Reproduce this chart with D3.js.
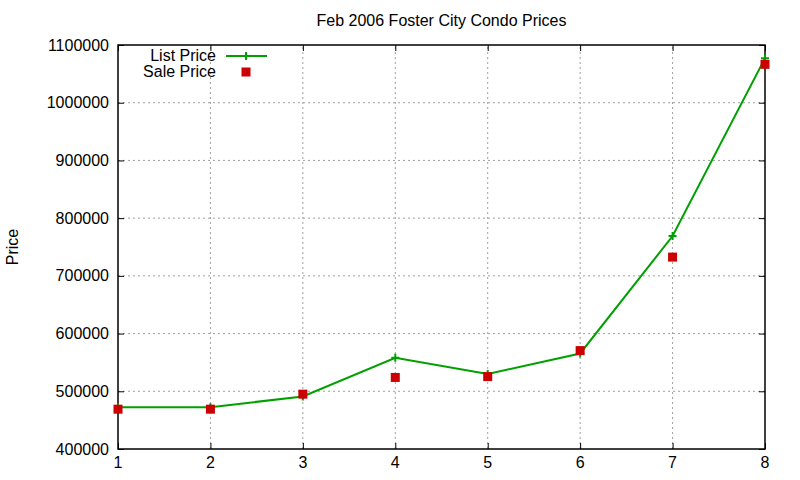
<!DOCTYPE html>
<html lang="en">
<head>
  <meta charset="UTF-8">
  <title>Feb 2006 Foster City Condo Prices</title>
  <script src="https://d3js.org/d3.v7.min.js"></script>
  <style>
    body { margin: 0; padding: 0; background: #fff; }
    svg { display: block; font-family: "Liberation Sans", Arial, sans-serif; }
    .grid line { stroke: #a0a0a0; stroke-width: 1; stroke-dasharray: 2,3; }
    .tick-label { font-size: 16px; fill: #000; }
  </style>
</head>
<body>
  <div id="chart"></div>
  <script>
const months = [1, 2, 3, 4, 5, 6, 7, 8];
const listPrice = [472500, 472500, 491000, 558000, 530000, 565500, 769000, 1077000];
const salePrice = [469000, 469000, 495000, 524000, 525500, 570500, 732500, 1066500];
const yTicks = [400000, 500000, 600000, 700000, 800000, 900000, 1000000, 1100000];

    const width = 800, height = 480;
    const margin = { top: 45, right: 35, bottom: 31, left: 118 };

    const svg = d3.select("#chart")
      .append("svg")
      .attr("width", width)
      .attr("height", height);

    const x = d3.scaleLinear().domain([1, 8]).range([margin.left, width - margin.right]);
    const y = d3.scaleLinear().domain([400000, 1100000]).range([height - margin.bottom, margin.top]);

    // grid
    const grid = svg.append("g").attr("class", "grid");
    grid.selectAll("line.v")
      .data(months.slice(1, -1))
      .join("line")
      .attr("x1", d => x(d)).attr("x2", d => x(d))
      .attr("y1", y.range()[0]).attr("y2", y.range()[1]);
    grid.selectAll("line.h")
      .data(yTicks.slice(1, -1))
      .join("line")
      .attr("class", "h")
      .attr("y1", d => y(d)).attr("y2", d => y(d))
      .attr("x1", x.range()[0]).attr("x2", x.range()[1]);

    // axes with inward ticks on all sides
    const tick = 6;
    svg.append("g")
      .attr("transform", `translate(${margin.left},0)`)
      .call(d3.axisRight(y).tickValues(yTicks).tickSize(tick).tickFormat(""))
      .call(g => g.select(".domain").remove());
    svg.append("g")
      .attr("transform", `translate(${width - margin.right},0)`)
      .call(d3.axisLeft(y).tickValues(yTicks).tickSize(tick).tickFormat(""))
      .call(g => g.select(".domain").remove());
    svg.append("g")
      .attr("transform", `translate(0,${height - margin.bottom})`)
      .call(d3.axisTop(x).tickValues(months).tickSize(tick).tickFormat(""))
      .call(g => g.select(".domain").remove());
    svg.append("g")
      .attr("transform", `translate(0,${margin.top})`)
      .call(d3.axisBottom(x).tickValues(months).tickSize(tick).tickFormat(""))
      .call(g => g.select(".domain").remove());

    svg.append("rect")
      .attr("x", margin.left).attr("y", margin.top)
      .attr("width", x.range()[1] - margin.left)
      .attr("height", y.range()[0] - margin.top)
      .attr("fill", "none").attr("stroke", "#000").attr("stroke-width", 1.5);

    // tick labels
    svg.append("g").selectAll("text")
      .data(yTicks)
      .join("text")
      .attr("class", "tick-label")
      .attr("x", margin.left - 9)
      .attr("y", d => y(d))
      .attr("dy", "0.35em")
      .attr("text-anchor", "end")
      .text(d => d);
    svg.append("g").selectAll("text")
      .data(months)
      .join("text")
      .attr("class", "tick-label")
      .attr("x", d => x(d))
      .attr("y", height - margin.bottom + 19)
      .attr("text-anchor", "middle")
      .text(d => d);

    // title + y label
    svg.append("text")
      .attr("x", (x.range()[0] + x.range()[1]) / 2)
      .attr("y", 26)
      .attr("text-anchor", "middle")
      .attr("font-size", "16px")
      .text("Feb 2006 Foster City Condo Prices");
    svg.append("text")
      .attr("transform", `translate(18,${(y.range()[0] + y.range()[1]) / 2}) rotate(-90)`)
      .attr("text-anchor", "middle")
      .attr("font-size", "16px")
      .text("Price");

    const green = "#00a000", red = "#cc0000";

    // list price line
    const line = d3.line().x((d, i) => x(months[i])).y(d => y(d));
    svg.append("path")
      .datum(listPrice)
      .attr("d", line)
      .attr("fill", "none")
      .attr("stroke", green)
      .attr("stroke-width", 2);
    svg.append("g").selectAll("path")
      .data(listPrice)
      .join("path")
      .attr("d", "M-4,0H4M0,-4V4")
      .attr("transform", (d, i) => `translate(${x(months[i])},${y(d)})`)
      .attr("stroke", green)
      .attr("stroke-width", 2);

    // sale price squares
    const sq = 9;
    svg.append("g").selectAll("rect")
      .data(salePrice)
      .join("rect")
      .attr("x", (d, i) => x(months[i]) - sq / 2)
      .attr("y", d => y(d) - sq / 2)
      .attr("width", sq).attr("height", sq)
      .attr("fill", red);

    // legend
    const legend = svg.append("g").attr("font-size", "16px");
    legend.append("text").attr("x", 216).attr("y", 61).attr("text-anchor", "end")
      .text("List Price");
    legend.append("line").attr("x1", 226).attr("x2", 267).attr("y1", 56).attr("y2", 56)
      .attr("stroke", green).attr("stroke-width", 2);
    legend.append("path").attr("d", "M-4,0H4M0,-4V4")
      .attr("transform", "translate(246,56)")
      .attr("stroke", green).attr("stroke-width", 2);
    legend.append("text").attr("x", 216).attr("y", 77).attr("text-anchor", "end")
      .text("Sale Price");
    legend.append("rect").attr("x", 246 - sq / 2).attr("y", 72 - sq / 2)
      .attr("width", sq).attr("height", sq).attr("fill", red);
  </script>
</body>
</html>
